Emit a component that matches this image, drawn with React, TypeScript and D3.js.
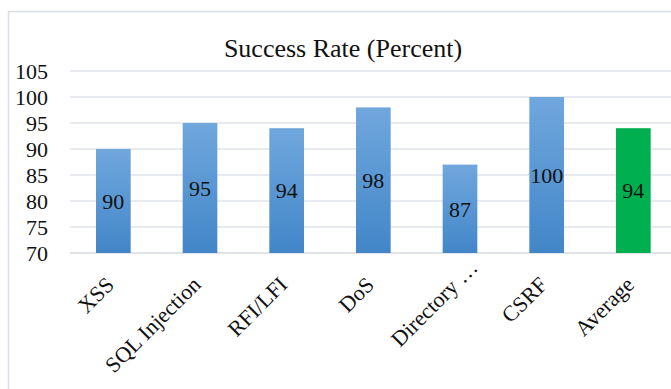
import { useRef, useEffect } from 'react';
import * as d3 from 'd3';

const categories = ['XSS', 'SQL Injection', 'RFI/LFI', 'DoS', 'Directory …', 'CSRF', 'Average'];
const successRate = [90, 95, 94, 98, 87, 100, 94];
const yTicks = [70, 75, 80, 85, 90, 95, 100, 105];
const title = 'Success Rate (Percent)';

const W = 671;
const H = 389;
const FONT = '"Liberation Serif", "Times New Roman", Times, serif';

const App = () => {
  const svgRef = useRef<SVGSVGElement | null>(null);

  useEffect(() => {
    const svg = d3.select(svgRef.current);
    svg.selectAll('*').remove();

    const defs = svg.append('defs');
    const grad = defs
      .append('linearGradient')
      .attr('id', 'barBlue')
      .attr('x1', 0)
      .attr('y1', 0)
      .attr('x2', 0)
      .attr('y2', 1);
    grad.append('stop').attr('offset', '0%').attr('stop-color', '#70a7dd');
    grad.append('stop').attr('offset', '100%').attr('stop-color', '#4286c8');

    // chart frame (cropped on right/bottom in the original)
    svg
      .append('rect')
      .attr('x', 8.5)
      .attr('y', 11.5)
      .attr('width', 720)
      .attr('height', 420)
      .attr('fill', 'white')
      .attr('stroke', '#d9dee6')
      .attr('stroke-width', 1.5);

    const x = d3
      .scaleBand()
      .domain(categories)
      .range([70, 676.67])
      .paddingInner(0.6)
      .paddingOuter(0.3);

    const y = d3.scaleLinear().domain([70, 105]).range([253, 71]);

    // gridlines
    svg
      .append('g')
      .selectAll('line')
      .data(yTicks)
      .join('line')
      .attr('x1', 70)
      .attr('x2', W)
      .attr('y1', (d) => y(d))
      .attr('y2', (d) => y(d))
      .attr('stroke', (d) => (d === 70 ? '#d6dbe2' : '#dfe3ea'))
      .attr('stroke-width', 1.5);

    // y tick labels
    svg
      .append('g')
      .selectAll('text')
      .data(yTicks)
      .join('text')
      .attr('x', 48)
      .attr('y', (d) => y(d))
      .attr('dy', '0.35em')
      .attr('text-anchor', 'end')
      .style('font-family', FONT)
      .style('font-size', '22px')
      .attr('fill', '#111')
      .text((d) => d);

    const data = categories.map((c, i) => ({ cat: c, value: successRate[i] }));

    // bars
    svg
      .append('g')
      .selectAll('rect')
      .data(data)
      .join('rect')
      .attr('x', (d) => x(d.cat)!)
      .attr('y', (d) => y(d.value))
      .attr('width', x.bandwidth())
      .attr('height', (d) => y(70) - y(d.value))
      .attr('fill', (d) => (d.cat === 'Average' ? '#00b050' : 'url(#barBlue)'));

    // value labels (centered in bar)
    svg
      .append('g')
      .selectAll('text')
      .data(data)
      .join('text')
      .attr('x', (d) => x(d.cat)! + x.bandwidth() / 2)
      .attr('y', (d) => (y(d.value) + y(70)) / 2)
      .attr('dy', '0.35em')
      .attr('text-anchor', 'middle')
      .style('font-family', FONT)
      .style('font-size', '22px')
      .attr('fill', '#111')
      .text((d) => d.value);

    // rotated category labels
    svg
      .append('g')
      .selectAll('text')
      .data(categories)
      .join('text')
      .attr('transform', (d) => {
        const cx = x(d)! + x.bandwidth() / 2 + 2;
        const shift = d.endsWith('…') ? 24 : 0;
        const ex = cx + shift * Math.SQRT1_2;
        const ey = 286 - shift * Math.SQRT1_2;
        return `translate(${ex},${ey}) rotate(-45)`;
      })
      .attr('text-anchor', 'end')
      .style('font-family', FONT)
      .style('font-size', '22px')
      .attr('fill', '#111')
      .text((d) => d);

    // title
    svg
      .append('text')
      .attr('x', 343)
      .attr('y', 57)
      .attr('text-anchor', 'middle')
      .style('font-family', FONT)
      .style('font-size', '26px')
      .attr('fill', '#111')
      .text(title);
  }, []);

  return (
    <div>
      <svg
        ref={svgRef}
        width={W}
        height={H}
        style={{ position: 'absolute', left: 0, top: 0, display: 'block' }}
      ></svg>
    </div>
  );
};

export default App;
